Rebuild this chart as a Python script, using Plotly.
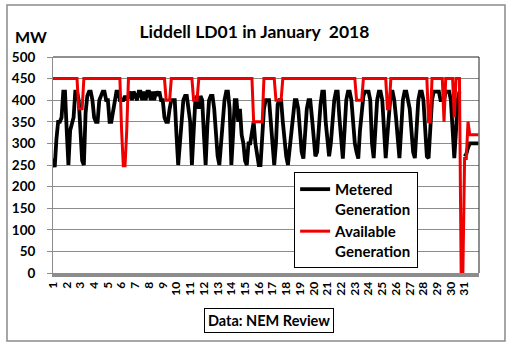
import plotly.graph_objects as go

# Liddell LD01, January 2018 - 3-hourly samples (0h,3h,...,21h) per day, MW
days = list(range(1, 32))
samples_per_day = 8

metered = [
    [265, 245, 310, 350, 350, 360, 420, 420],   # 1
    [330, 250, 330, 350, 360, 420, 420, 400],   # 2
    [330, 260, 250, 370, 410, 420, 420, 400],   # 3
    [360, 350, 350, 400, 410, 420, 420, 400],   # 4
    [400, 350, 350, 370, 400, 420, 420, 400],   # 5
    [400, 400, 410, 400, 410, 420, 400, 420],   # 6
    [410, 400, 420, 420, 400, 420, 400, 420],   # 7
    [420, 400, 420, 400, 420, 410, 420, 400],   # 8
    [400, 360, 350, 350, 380, 400, 400, 400],   # 9
    [320, 250, 300, 350, 400, 410, 410, 380],   # 10
    [350, 250, 320, 400, 410, 380, 410, 400],   # 11
    [320, 250, 340, 400, 410, 410, 380, 320],   # 12
    [270, 250, 300, 360, 400, 420, 420, 380],   # 13
    [250, 320, 400, 400, 350, 380, 320, 300],   # 14
    [260, 250, 300, 300, 330, 350, 300, 270],   # 15
    [250, 250, 320, 380, 400, 400, 400, 350],   # 16
    [300, 250, 300, 390, 400, 400, 350, 300],   # 17
    [270, 250, 290, 340, 380, 400, 400, 380],   # 18
    [330, 280, 265, 320, 380, 400, 400, 360],   # 19
    [300, 270, 280, 340, 390, 420, 420, 350],   # 20
    [300, 270, 300, 360, 400, 420, 420, 360],   # 21
    [310, 265, 330, 400, 420, 420, 400, 350],   # 22
    [300, 280, 265, 330, 380, 410, 420, 420],   # 23
    [420, 400, 300, 266, 330, 400, 420, 420],   # 24
    [400, 320, 266, 320, 380, 420, 420, 400],   # 25
    [360, 300, 266, 330, 400, 420, 420, 400],   # 26
    [380, 330, 280, 266, 340, 400, 420, 420],   # 27
    [400, 330, 270, 266, 330, 400, 420, 420],   # 28
    [420, 420, 400, 400, 400, 420, 420, 420],   # 29
    [400, 330, 266, 330, 400, 420, None, None], # 30
    [270, 275, 290, 300, 300, 300, 300, 300],   # 31
]
metered_end = 300

available = [
    [450, 450, 450, 450, 450, 450, 450, 450],   # 1
    [450, 450, 450, 450, 450, 450, 450, 380],   # 2
    [380, 380, 450, 450, 450, 450, 450, 450],   # 3
    [450, 450, 450, 450, 450, 450, 450, 450],   # 4
    [450, 450, 450, 450, 450, 450, 450, 450],   # 5
    [330, 248, 248, 330, 450, 450, 450, 450],   # 6
    [450, 450, 450, 450, 450, 450, 450, 450],   # 7
    [450, 450, 450, 450, 450, 450, 450, 450],   # 8
    [450, 450, 400, 400, 400, 450, 450, 450],   # 9
    [450, 450, 450, 450, 450, 450, 450, 450],   # 10
    [450, 450, 400, 400, 400, 450, 450, 450],   # 11
    [450, 450, 450, 450, 450, 450, 450, 450],   # 12
    [450, 450, 450, 450, 450, 450, 450, 450],   # 13
    [450, 450, 450, 450, 450, 450, 450, 450],   # 14
    [450, 450, 450, 450, 450, 350, 350, 350],   # 15
    [350, 350, 350, 450, 450, 450, 450, 450],   # 16
    [450, 450, 400, 400, 400, 400, 450, 450],   # 17
    [450, 450, 450, 450, 450, 450, 450, 450],   # 18
    [450, 450, 450, 450, 450, 450, 450, 450],   # 19
    [450, 450, 450, 450, 450, 450, 450, 450],   # 20
    [450, 450, 450, 450, 450, 450, 450, 450],   # 21
    [450, 450, 450, 450, 450, 450, 450, 450],   # 22
    [450, 400, 400, 400, 400, 450, 450, 450],   # 23
    [450, 450, 450, 450, 450, 450, 450, 450],   # 24
    [450, 450, 450, 380, 380, 450, 450, 450],   # 25
    [450, 450, 450, 450, 450, 450, 450, 450],   # 26
    [450, 450, 450, 450, 450, 450, 450, 450],   # 27
    [450, 450, 450, 350, 350, 450, 450, 450],   # 28
    [450, 450, 450, 450, 350, 450, 450, 450],   # 29
    [450, 450, 360, 450, 450, 450, 0, 0],       # 30
    [265, 265, 350, 320, 320, 320, 320, 320],   # 31
]
available_end = 320

tick_labels = [str(d) for d in days]

# time axis in days (day d starts at d)
times = [d + s / samples_per_day for d in days for s in range(samples_per_day)] + [days[-1] + 1]
metered_flat = [v for row in metered for v in row] + [metered_end]
available_flat = [v for row in available for v in row] + [available_end]

FONT = "Lato"
GRID = "#8c8c8c"

fig = go.Figure()
fig.add_trace(go.Scatter(
    x=times, y=metered_flat, mode="lines", name="Metered<br>Generation",
    line=dict(color="#000000", width=3.8), connectgaps=False,
))
fig.add_trace(go.Scatter(
    x=times, y=available_flat, mode="lines", name="Available<br>Generation",
    line=dict(color="#ee0000", width=3),
))

fig.update_layout(
    width=512, height=348,
    margin=dict(l=53, r=33, t=57, b=75),
    paper_bgcolor="white", plot_bgcolor="white",
    font=dict(family=FONT, color="black", size=13),
    title=dict(
        text="Liddell LD01 in January  2018",
        x=0.497, xanchor="center", y=0.908, yanchor="middle",
        font=dict(family=FONT, size=17.5, weight="bold", color="black"),
    ),
    showlegend=True,
    legend=dict(
        x=0.566, xanchor="left", y=0.468, yanchor="top",
        bgcolor="white", bordercolor="black", borderwidth=1,
        font=dict(family=FONT, size=15, weight="bold", color="black"),
        valign="top", itemwidth=30,
    ),
    xaxis=dict(
        range=[1, 32.05],
        tickmode="array", tickvals=days, ticktext=tick_labels,
        tickangle=-90,
        tickfont=dict(family=FONT, size=12, weight="bold", color="black"),
        showgrid=False, zeroline=False,
        showline=True, linecolor=GRID, linewidth=4,
        ticks="",
    ),
    yaxis=dict(
        range=[0, 500], dtick=50, tick0=0,
        tickfont=dict(family=FONT, size=13.5, weight="bold", color="black"),
        showgrid=True, gridcolor=GRID, gridwidth=1,
        zeroline=False,
        showline=True, linecolor=GRID, linewidth=1,
        ticks="outside", ticklen=5, tickcolor=GRID,
        ticklabelstandoff=9,
    ),
    shapes=[
        # outer chart border
        dict(type="rect", xref="paper", yref="paper",
             x0=-0.108, x1=1.061, y0=-0.315, y1=1.241,
             line=dict(color="#8a8a8a", width=1.5), layer="below"),
        # plot-area top and right border
        dict(type="line", xref="paper", yref="paper", x0=0, x1=1, y0=1, y1=1,
             line=dict(color="#202020", width=1), layer="above"),
        dict(type="line", xref="paper", yref="paper", x0=1, x1=1, y0=0, y1=1,
             line=dict(color="#202020", width=1), layer="above"),
    ],
    annotations=[
        dict(text="MW", xref="paper", yref="paper", x=-0.052, y=1.093,
             xanchor="center", yanchor="middle", showarrow=False,
             font=dict(family=FONT, size=16, weight="bold", color="black")),
        dict(text="Data: NEM Review", xref="paper", yref="paper", x=0.508, y=-0.222,
             xanchor="center", yanchor="middle", showarrow=False,
             bordercolor="black", borderwidth=1, borderpad=3, bgcolor="white",
             font=dict(family=FONT, size=14.5, weight="bold", color="black")),
    ],
)

fig.write_html("out.html")
